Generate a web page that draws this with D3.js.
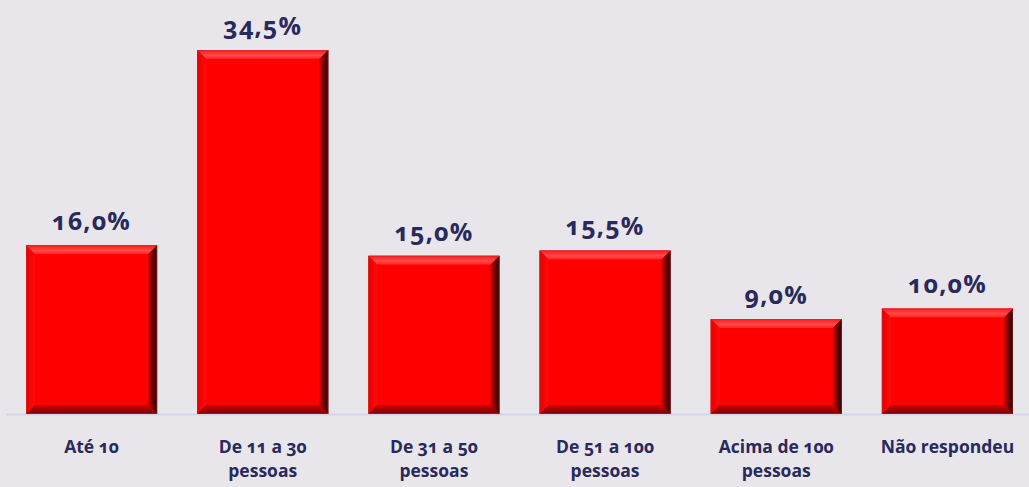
<!DOCTYPE html>
<html>
<head>
<meta charset="utf-8">
<script src="https://cdn.jsdelivr.net/npm/d3@7"></script>
<style>
  body { margin: 0; background: #e8e6ea; }
  text { font-family: "Open Sans", Lato, sans-serif; font-weight: bold; fill: #29295b;
         font-feature-settings: "onum"; font-variant-numeric: oldstyle-nums; }
</style>
</head>
<body>
<script>
var categories = ["Até 10", "De 11 a 30 pessoas", "De 31 a 50 pessoas", "De 51 a 100 pessoas", "Acima de 100 pessoas", "Não respondeu"];
var catLines = [["Até 10"], ["De 11 a 30", "pessoas"], ["De 31 a 50", "pessoas"], ["De 51 a 100", "pessoas"], ["Acima de 100", "pessoas"], ["Não respondeu"]];
var values = [16.0, 34.5, 15.0, 15.5, 9.0, 10.0];

var width = 1029,
    height = 487,
    baseY = 414,
    bev = 9;

var fmt = function(v) { return d3.format(".1f")(v).replace(".", ",") + "%"; };

var x = d3.scaleBand()
    .domain(categories)
    .range([6, 1033])
    .paddingInner(0.234)
    .paddingOuter(0.117);

var y = d3.scaleLinear()
    .domain([0, 34.5])
    .range([baseY, 50]);

var svg = d3.select("body").append("svg")
    .attr("width", width)
    .attr("height", height);

var defs = svg.append("defs");

function grad(id, x1, y1, x2, y2, stops) {
  var g = defs.append("linearGradient").attr("id", id)
      .attr("x1", x1).attr("y1", y1).attr("x2", x2).attr("y2", y2);
  stops.forEach(function(s) {
    g.append("stop").attr("offset", s[0]).attr("stop-color", s[1]);
  });
}
grad("gTop", 0, 0, 0, 1, [[0, "#ff1a1a"], [0.6, "#ff4a4a"], [1, "#ff2020"]]);
grad("gLeft", 0, 0, 1, 0, [[0, "#e80000"], [1, "#ff0a0a"]]);
grad("gRight", 0, 0, 1, 0, [[0, "#d80000"], [0.6, "#600000"], [1, "#200000"]]);
grad("gBot", 0, 0, 0, 1, [[0, "#d00000"], [1, "#7a0000"]]);

// axis line
svg.append("line")
    .attr("x1", 6).attr("x2", width)
    .attr("y1", baseY + 0.5).attr("y2", baseY + 0.5)
    .attr("stroke", "#d3d3ec").attr("stroke-width", 2);

var bars = svg.selectAll("g.bar")
    .data(values)
  .enter().append("g")
    .attr("class", "bar");

function pts(p) { return p.map(function(q) { return q.join(","); }).join(" "); }

bars.each(function(d, i) {
  var g = d3.select(this),
      x0 = x(categories[i]),
      x1 = x0 + x.bandwidth(),
      y0 = y(d),
      y1 = y(0);
  g.append("rect")
      .attr("x", x0).attr("y", y0)
      .attr("width", x1 - x0).attr("height", y1 - y0)
      .attr("fill", "#ff0000");
  g.append("polygon").attr("fill", "url(#gTop)")
      .attr("points", pts([[x0, y0], [x1, y0], [x1 - bev, y0 + bev], [x0 + bev, y0 + bev]]));
  g.append("polygon").attr("fill", "url(#gLeft)")
      .attr("points", pts([[x0, y0], [x0 + bev, y0 + bev], [x0 + bev, y1 - bev], [x0, y1]]));
  g.append("polygon").attr("fill", "url(#gBot)")
      .attr("points", pts([[x0, y1], [x0 + bev, y1 - bev], [x1 - bev, y1 - bev], [x1, y1]]));
  g.append("polygon").attr("fill", "url(#gRight)")
      .attr("points", pts([[x1, y0], [x1, y1], [x1 - bev, y1 - bev], [x1 - bev, y0 + bev]]));
  g.append("rect")
      .attr("x", x0 + 0.5).attr("y", y0 + 0.5)
      .attr("width", x1 - x0 - 1).attr("height", y1 - y0 - 1)
      .attr("fill", "none").attr("stroke", "#b03030").attr("stroke-opacity", 0.5);
});

svg.selectAll("text.val")
    .data(values)
  .enter().append("text")
    .attr("class", "val")
    .attr("x", function(d, i) { return x(categories[i]) + x.bandwidth() / 2; })
    .attr("y", function(d) { return y(d) - 15; })
    .attr("text-anchor", "middle")
    .style("font-size", "25px")
    .style("letter-spacing", "1.2px")
    .text(fmt);

svg.selectAll("text.cat")
    .data(catLines)
  .enter().append("text")
    .attr("class", "cat")
    .attr("x", function(d, i) { return x(categories[i]) + x.bandwidth() / 2; })
    .attr("y", 453)
    .attr("text-anchor", "middle")
    .style("font-size", "17.5px")
    .each(function(d) {
      var t = d3.select(this);
      d.forEach(function(line, j) {
        t.append("tspan")
            .attr("x", t.attr("x"))
            .attr("dy", j === 0 ? 0 : 24)
            .text(line);
      });
    });
</script>
</body>
</html>
